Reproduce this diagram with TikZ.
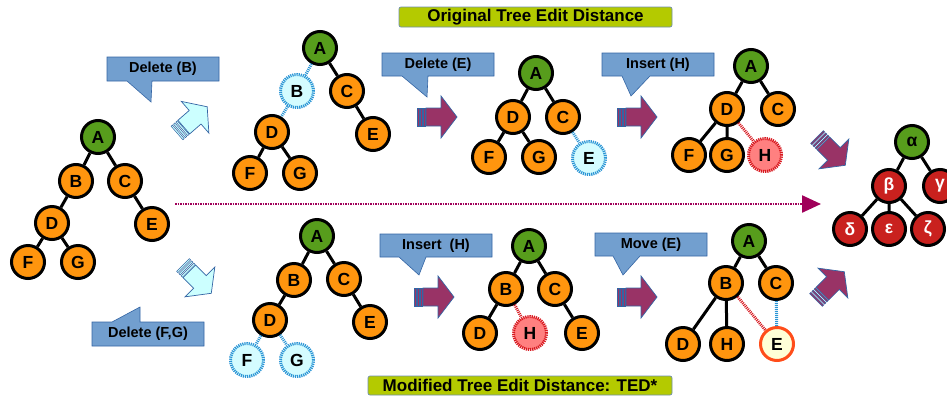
\documentclass[tikz,border=0pt]{standalone}
\usepackage{fontspec}
\setmainfont{Liberation Sans}
\usetikzlibrary{arrows.meta}
\definecolor{orng}{HTML}{FF950E}
\definecolor{grn}{HTML}{579D1C}
\definecolor{gred}{HTML}{C9211E}
\definecolor{dblue}{HTML}{2A95D5}
\definecolor{dcyan}{HTML}{D4FCFF}
\definecolor{ired}{HTML}{D71920}
\definecolor{ipink}{HTML}{FF8080}
\definecolor{mvbord}{HTML}{FF4D1A}
\definecolor{mvfill}{HTML}{FFFFD7}
\definecolor{cfill}{HTML}{729FCF}
\definecolor{cbord}{HTML}{3465A4}
\definecolor{tfill}{HTML}{B4CA00}
\definecolor{tbord}{HTML}{6F8FAF}
\definecolor{maroon}{HTML}{993366}
\definecolor{acyan}{HTML}{CCFFFF}
\definecolor{purp}{HTML}{A0005A}
\tikzset{
  pics/barrow/.style args={#1/#2}{code={
    \filldraw[fill=#1, draw=#2, line width=0.7pt] (9,-9) -- (24,-9) -- (24,-21) -- (40,0) -- (24,21) -- (24,9) -- (9,9) -- cycle;
    \filldraw[fill=#1, draw=#2, line width=0.5pt] (0,-9) rectangle (1.8,9) (3.2,-9) rectangle (5,9) (6.4,-9) rectangle (8.2,9);
  }},
}
\begin{document}
\begin{tikzpicture}[x=1pt,y=-1pt,
  tn/.style={circle, draw=black, line width=3pt, minimum size=33pt, inner sep=0pt, font=\fontsize{17.5}{18}\selectfont\bfseries},
  on/.style={tn, fill=orng},
  rt/.style={tn, fill=grn},
  gk/.style={tn, fill=gred, text=white},
  dl/.style={tn, draw=dblue, fill=dcyan, dash pattern=on 1.2pt off 0.9pt},
  insn/.style={tn, draw=ired, fill=ipink, dash pattern=on 1.2pt off 0.9pt},
  mv/.style={tn, draw=mvbord, fill=mvfill},
  ed/.style={line width=3pt},
  dle/.style={draw=dblue, line width=3pt, dash pattern=on 1pt off 1pt},
  ine/.style={draw=ired, line width=3pt, dash pattern=on 1pt off 1pt},
  callout/.style={fill=cfill, draw=cbord, line width=0.6pt},
  ctext/.style={font=\fontsize{14.5}{15}\selectfont\bfseries},
  ttl/.style={fill=tfill, draw=tbord, line width=0.7pt, rounded corners=2pt, inner sep=0pt, font=\fontsize{17}{17}\selectfont\bfseries},
]
\useasboundingbox (0,0) rectangle (947,397);

% titles
\node[ttl, minimum width=273pt, minimum height=20pt] (ttop) at (535.5,17) {Original Tree Edit Distance};
\node[ttl, minimum width=304pt, minimum height=19pt] (tbot) at (520,385.5) {Modified Tree Edit Distance: TED*};

% long dotted arrow
\coordinate (ls) at (175,204);
\coordinate (le) at (821,204);
\draw[purp, line width=2.4pt, dash pattern=on 1.5pt off 1pt, -{Triangle[length=19pt,width=17pt]}] (ls) -- (le);

% block arrows
\pic[rotate=41] at (177,133) {barrow=acyan/cbord};
\pic[rotate=-45] at (183,265) {barrow=acyan/cbord};
\pic at (417,117) {barrow=maroon/cbord};
\pic at (617,117) {barrow=maroon/cbord};
\pic at (414,297) {barrow=maroon/cbord};
\pic at (617,297) {barrow=maroon/cbord};
\pic[rotate=-45] at (817,137) {barrow=maroon/cbord};
\pic[rotate=45] at (816,300) {barrow=maroon/cbord};

% callouts
\filldraw[callout] (107,57) -- (219,57) -- (219,81) -- (152,81) -- (151,102) -- (127,81) -- (107,81) -- cycle;
\node[ctext] (c1) at (163,69) {Delete (B)};
\filldraw[callout] (92,322) -- (112,322) -- (140,307) -- (140,322) -- (204,322) -- (204,346) -- (92,346) -- cycle;
\node[ctext] (c2) at (148,334) {Delete (F,G)};
\filldraw[callout] (382,53) -- (494,53) -- (494,76) -- (428,76) -- (427,97) -- (402,76) -- (382,76) -- cycle;
\node[ctext] (c3) at (438,64.5) {Delete (E)};
\filldraw[callout] (602,53) -- (714,53) -- (714,76) -- (650,76) -- (631,96) -- (622,76) -- (602,76) -- cycle;
\node[ctext] (c4) at (658,64.5) {Insert (H)};
\filldraw[callout] (380,234) -- (492,234) -- (492,257) -- (426,257) -- (419,275) -- (399,257) -- (380,257) -- cycle;
\node[ctext] (c5) at (436,245.5) {Insert\ \ (H)};
\filldraw[callout] (595,233) -- (707,233) -- (707,256) -- (640,256) -- (623,275) -- (613,256) -- (595,256) -- cycle;
\node[ctext] (c6) at (651,244.5) {Move (E)};

% tree 1
\node[rt] (t1a) at (98,137) {A};
\node[on] (t1b) at (76,181) {B};
\node[on] (t1c) at (125,181) {C};
\node[on] (t1d) at (52,223) {D};
\node[on] (t1e) at (152,224) {E};
\node[on] (t1f) at (28,262) {F};
\node[on] (t1g) at (78,262) {G};
\draw[ed] (t1a)--(t1b) (t1a)--(t1c) (t1b)--(t1d) (t1c)--(t1e) (t1d)--(t1f) (t1d)--(t1g);

% tree 2
\node[rt] (t2a) at (320,48) {A};
\node[dl] (t2b) at (297,91) {B};
\node[on] (t2c) at (347,91) {C};
\node[on] (t2d) at (272,132) {D};
\node[on] (t2e) at (373,134) {E};
\node[on] (t2f) at (250,173) {F};
\node[on] (t2g) at (300,173) {G};
\draw[ed] (t2a)--(t2c) (t2c)--(t2e) (t2d)--(t2f) (t2d)--(t2g);
\draw[dle] (t2a)--(t2b) (t2b)--(t2d);

% tree 3
\node[rt] (t3a) at (317,236) {A};
\node[on] (t3b) at (294,280) {B};
\node[on] (t3c) at (344,279) {C};
\node[on] (t3d) at (270,320) {D};
\node[on] (t3e) at (370,322) {E};
\node[dl] (t3f) at (247,360) {F};
\node[dl] (t3g) at (297,360) {G};
\draw[ed] (t3a)--(t3b) (t3a)--(t3c) (t3b)--(t3d) (t3c)--(t3e);
\draw[dle] (t3d)--(t3f) (t3d)--(t3g);

% tree 4
\node[rt] (t4a) at (536,73) {A};
\node[on] (t4d) at (513,117) {D};
\node[on] (t4c) at (563,117) {C};
\node[on] (t4f) at (489,157) {F};
\node[on] (t4g) at (539,157) {G};
\node[dl] (t4e) at (589,158) {E};
\draw[ed] (t4a)--(t4d) (t4a)--(t4c) (t4d)--(t4f) (t4d)--(t4g);
\draw[dle] (t4c)--(t4e);

% tree 5
\node[rt] (t5a) at (529,246) {A};
\node[on] (t5b) at (506,289) {B};
\node[on] (t5c) at (555,289) {C};
\node[on] (t5d) at (480,333) {D};
\node[insn] (t5h) at (530,333) {H};
\node[on] (t5e) at (582,333) {E};
\draw[ed] (t5a)--(t5b) (t5a)--(t5c) (t5b)--(t5d) (t5c)--(t5e);
\draw[ine] (t5b)--(t5h);

% tree 6
\node[rt] (t6a) at (751,66) {A};
\node[on] (t6d) at (727,109) {D};
\node[on] (t6c) at (778,109) {C};
\node[on] (t6f) at (689,155) {F};
\node[on] (t6g) at (727,155) {G};
\node[insn] (t6h) at (765,155) {H};
\draw[ed] (t6a)--(t6d) (t6a)--(t6c) (t6d)--(t6f) (t6d)--(t6g);
\draw[ine] (t6d)--(t6h);

% tree 7
\node[rt] (t7a) at (749,241) {A};
\node[on] (t7b) at (726,283) {B};
\node[on] (t7c) at (776,283) {C};
\node[on] (t7d) at (683,344) {D};
\node[on] (t7h) at (727,344) {H};
\node[mv] (t7e) at (777,344) {E};
\draw[ed] (t7a)--(t7b) (t7a)--(t7c) (t7b)--(t7d) (t7b)--(t7h);
\draw[ine] (t7b)--(t7e);
\draw[dle] (t7c)--(t7e);

% tree 8
\node[rt] (t8a) at (912,142) {α};
\node[gk] (t8b) at (889,186) {β};
\node[gk] (t8c) at (940,186) {γ};
\node[gk] (t8d) at (850,229) {δ};
\node[gk] (t8e) at (889,229) {ε};
\node[gk] (t8f) at (928,229) {ζ};
\draw[ed] (t8a)--(t8b) (t8a)--(t8c) (t8b)--(t8d) (t8b)--(t8e) (t8b)--(t8f);
\end{tikzpicture}
\end{document}
